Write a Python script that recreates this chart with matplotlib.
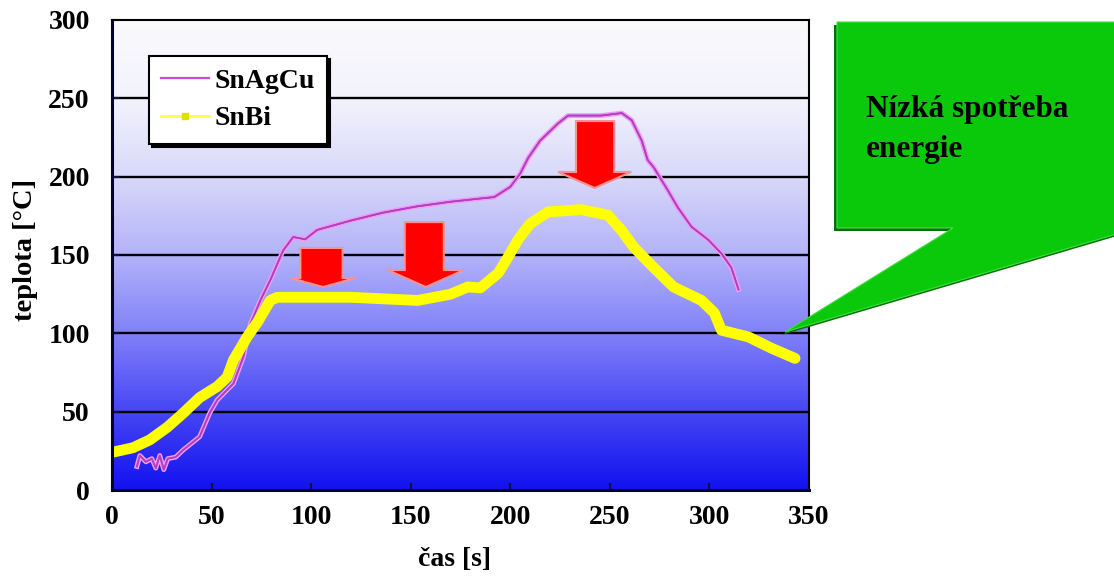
import numpy as np
import matplotlib
matplotlib.use('Agg')
import matplotlib.pyplot as plt
from matplotlib.colors import LinearSegmentedColormap
from matplotlib.lines import Line2D
from matplotlib.patches import Polygon
import matplotlib.patheffects as pe

# --- data ---
snbi_t = [0, 10.6, 19, 27.7, 35.7, 44, 52.8, 57.8, 61, 68, 73, 79.5, 83, 100, 120,
          153.5, 170, 178.7, 185, 194, 199, 204, 210, 219, 235.6, 249, 255.7, 262,
          272, 282, 296, 302.5, 306, 319.6, 331, 343]
snbi_temp = [24, 27, 32, 40, 49, 59, 66, 72, 83, 98, 107, 121, 123, 123, 123,
             121, 125, 129.6, 129, 138.5, 149, 160, 170, 177.5, 179, 175.5, 166, 155,
             142, 129.6, 121, 113, 102, 97.7, 90.6, 84]

snagcu_t = [12.5, 14, 17, 20, 22, 24, 26, 28, 32, 35.7, 44, 49, 52.8, 61, 66, 69.5,
            74.5, 79.5, 86, 91, 97, 103, 120, 136, 153, 170, 192, 200, 205, 209,
            215, 224, 229, 245.6, 256, 261, 266, 269, 272, 279, 284, 291, 299.5,
            306, 311, 314.6]
snagcu_temp = [15, 22, 18, 20, 14, 22, 13, 20, 21, 25.5, 34, 49, 57.4, 68, 85, 106,
               121, 134, 153, 161.5, 160, 166, 172, 177, 181, 184, 187, 193.5, 202, 212,
               223, 234, 239, 239, 240.6, 236, 223, 210.6, 206, 191.5, 180.6, 168, 159.6,
               151, 142, 128]

x_ticks = [0, 50, 100, 150, 200, 250, 300, 350]
y_ticks = [0, 50, 100, 150, 200, 250, 300]

# block arrows: (shaft left, shaft right, top, head base, wing left, wing right, tip)
arrows = [
    (94.6, 115.8, 154.5, 135.3, 89.6, 122.3, 129.6),
    (147.0, 166.6, 171.0, 140.4, 138.4, 176.7, 129.6),
    (233.0, 252.2, 235.5, 203.0, 224.0, 260.7, 192.8),
]

serif = ['Liberation Serif', 'DejaVu Serif']
plt.rcParams['font.family'] = serif
plt.rcParams['font.weight'] = 'bold'

W, H = 1114, 576
fig = plt.figure(figsize=(W / 100, H / 100), dpi=100)
ax = fig.add_axes([112 / W, 1 - 490 / H, 697 / W, 470 / H])

# gradient background
grad_cmap = LinearSegmentedColormap.from_list('bg', [
    (0.00, (0.07, 0.07, 0.94)),
    (0.17, (0.28, 0.28, 0.96)),
    (0.33, (0.50, 0.50, 0.98)),
    (0.50, (0.70, 0.70, 0.98)),
    (0.67, (0.85, 0.85, 0.98)),
    (0.83, (0.95, 0.95, 0.99)),
    (1.00, (0.98, 0.98, 0.99)),
])
grad = np.linspace(0, 1, 256).reshape(-1, 1)
ax.imshow(grad, cmap=grad_cmap, origin='lower', extent=[0, 350, 0, 300],
          aspect='auto', zorder=0)

for yv in y_ticks[1:-1]:
    ax.axhline(yv, color='black', lw=1.7, zorder=1)

ax.plot(snagcu_t, snagcu_temp, color='#b040c0', lw=1.2, zorder=3,
        path_effects=[pe.withStroke(linewidth=3.5, foreground='#f29af2'), pe.Normal()])
ax.plot(snbi_t, snbi_temp, color='#ffff00', lw=7.8, zorder=3,
        solid_capstyle='round', solid_joinstyle='round')

for sl, sr, top, hb, wl, wr, tip in arrows:
    cx = (wl + wr) / 2
    pts = [(sl, top), (sr, top), (sr, hb), (wr, hb), (cx, tip), (wl, hb), (sl, hb)]
    ax.add_patch(Polygon(pts, closed=True, facecolor='#ff0000',
                         edgecolor='#ff9090', lw=1.5, zorder=4))

ax.set_xlim(0, 350)
ax.set_ylim(0, 300)
ax.set_xticks(x_ticks)
ax.set_yticks(y_ticks)
ax.tick_params(direction='in', length=5, width=1.5, color='#101040',
               labelsize=20, top=False, right=False)
ax.tick_params(axis='x', pad=11)
ax.tick_params(axis='y', pad=16)
for lbl in ax.get_xticklabels() + ax.get_yticklabels():
    lbl.set_fontweight('bold')

for side in ['left', 'bottom']:
    ax.spines[side].set_linewidth(2.2)
    ax.spines[side].set_color('#000030')
for side in ['top', 'right']:
    ax.spines[side].set_linewidth(1.5)
    ax.spines[side].set_color('black')
for s in ax.spines.values():
    s.set_zorder(5)

handles = [
    Line2D([], [], color='#c050d0', lw=1.6),
    Line2D([], [], color='#ffff40', lw=2, marker='s', ms=4, markerfacecolor='#e0e000',
           markeredgecolor='#e0e000'),
]
leg = ax.legend(handles, ['SnAgCu', 'SnBi'], loc='upper left',
                bbox_to_anchor=(0.053, 0.923), fancybox=False,
                shadow={'color': 'black', 'alpha': 1.0}, framealpha=1, edgecolor='black',
                prop={'family': serif, 'weight': 'bold', 'size': 20},
                handlelength=1.7, handletextpad=0.2, labelspacing=0.42,
                borderpad=0.45, borderaxespad=0)
leg.get_frame().set_linewidth(1.5)
leg.set_zorder(6)

fig.text(25 / W, 1 - 250 / H, 'teplota [°C]', rotation=90, ha='center', va='center',
         fontsize=20.5, fontweight='bold')
fig.text(454 / W, 1 - 559 / H, 'čas [s]', ha='center', va='center',
         fontsize=20, fontweight='bold')

# green callout
def to_fig(pts):
    return [(x / W, 1 - y / H) for x, y in pts]

call_pts = [(837, 22), (1120, 22), (1120, 233), (785, 332), (953, 228), (837, 228)]
shadow_pts = [(x - 3, y + 3) for x, y in call_pts]
fig.add_artist(Polygon(to_fig(shadow_pts), closed=True, facecolor='#087008',
                       edgecolor='none', transform=fig.transFigure, zorder=7))
fig.add_artist(Polygon(to_fig(call_pts), closed=True, facecolor='#0ac80a',
                       edgecolor='#40e040', lw=0.8, transform=fig.transFigure, zorder=8))
fig.text(866 / W, 1 - 117 / H, 'Nízká spotřeba', ha='left', va='baseline',
         fontsize=22.5, fontweight='bold', color='black', zorder=9)
fig.text(866 / W, 1 - 157 / H, 'energie', ha='left', va='baseline',
         fontsize=22.5, fontweight='bold', color='black', zorder=9)

fig.savefig('out.png', dpi=100)
